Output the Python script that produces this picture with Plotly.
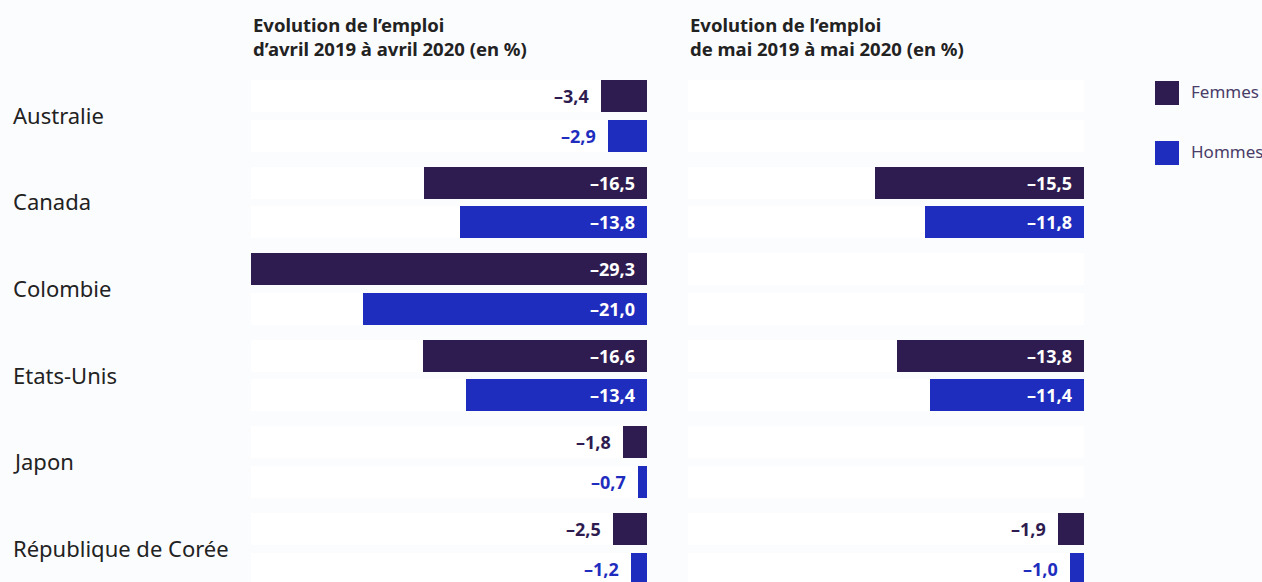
import plotly.graph_objects as go

countries = ["Australie", "Canada", "Colombie", "Etats-Unis", "Japon", "République de Corée"]
avril_femmes = [-3.4, -16.5, -29.3, -16.6, -1.8, -2.5]
avril_hommes = [-2.9, -13.8, -21.0, -13.4, -0.7, -1.2]
mai_femmes = [None, -15.5, None, -13.8, None, -1.9]
mai_hommes = [None, -11.8, None, -11.4, None, -1.0]
panel_titles = ["Evolution de l’emploi<br>d’avril 2019 à avril 2020 (en %)",
                "Evolution de l’emploi<br>de mai 2019 à mai 2020 (en %)"]
series_names = ["Femmes", "Hommes"]

C_F = "#2e1c50"
C_H = "#1f2dbe"
BG = "#fbfcfe"
FONT = "Noto Sans"
XMIN = -29.3

W, H = 1262, 582
PITCH = 86.6
Y0 = 96
DY = 39.5
BAR_H = 32

yf = [Y0 + PITCH * i for i in range(len(countries))]
yh = [y + DY for y in yf]

fig = go.Figure()
annotations = []
shapes = []

panels = [("x", avril_femmes, avril_hommes), ("x2", mai_femmes, mai_hommes)]
for xa, fem, hom in panels:
    # white row backgrounds
    fig.add_trace(go.Bar(x=[XMIN] * (2 * len(countries)), y=yf + yh, orientation="h",
                         width=BAR_H, marker=dict(color="#ffffff", line=dict(width=0)),
                         xaxis=xa, yaxis="y", showlegend=False, hoverinfo="skip"))
    for vals, ys, col, name in [(fem, yf, C_F, "Femmes"), (hom, yh, C_H, "Hommes")]:
        fig.add_trace(go.Bar(x=vals, y=ys, orientation="h", width=BAR_H,
                             marker=dict(color=col, line=dict(width=0)),
                             xaxis=xa, yaxis="y", name=name, showlegend=False))
        for v, y in zip(vals, ys):
            if v is None:
                continue
            txt = "–" + f"{abs(v):.1f}".replace(".", ",")
            inside = abs(v) >= 5
            annotations.append(dict(
                x=0 if inside else v, y=y, xref=xa, yref="y", text=f"<b>{txt}</b>",
                showarrow=False, xanchor="right", yanchor="middle", xshift=-10,
                font=dict(family=FONT, size=18, color="#ffffff" if inside else col)))

# country labels
for c, a, b in zip(countries, yf, yh):
    annotations.append(dict(x=11 / W, y=(a + b) / 2 - 1, xref="paper", yref="y", text=c,
                            showarrow=False, xanchor="left", yanchor="middle",
                            font=dict(family=FONT, size=22, color="#222222")))

# panel titles
for t, x0 in zip(panel_titles, [251, 688]):
    annotations.append(dict(x=x0 / W, y=10, xref="paper", yref="y", text=f"<b>{t}</b>",
                            showarrow=False, xanchor="left", yanchor="top", align="left",
                            font=dict(family=FONT, size=18.5, color="#222222")))

# legend
for i, (name, col) in enumerate(zip(series_names, [C_F, C_H])):
    yc = 93 + 60 * i
    shapes.append(dict(type="rect", xref="paper", yref="y", x0=1155 / W, x1=1179 / W,
                       y0=yc - 12, y1=yc + 12, fillcolor=col, line=dict(width=0)))
    annotations.append(dict(x=1189 / W, y=yc - 1.5, xref="paper", yref="y", text=name,
                            showarrow=False, xanchor="left", yanchor="middle",
                            font=dict(family=FONT, size=17, color="#4a3d68")))

axis_common = dict(range=[XMIN, 0], showgrid=False, zeroline=False, showticklabels=False,
                   showline=False, ticks="", fixedrange=True)
fig.update_layout(
    width=W, height=H, autosize=False,
    margin=dict(l=0, r=0, t=0, b=0),
    paper_bgcolor=BG, plot_bgcolor="rgba(0,0,0,0)",
    barmode="overlay", bargap=0,
    xaxis=dict(domain=[251 / W, 647 / W], anchor="y", **axis_common),
    xaxis2=dict(domain=[688 / W, 1084 / W], anchor="y", **axis_common),
    yaxis=dict(range=[H, 0], showgrid=False, zeroline=False, showticklabels=False,
               showline=False, ticks="", fixedrange=True),
    annotations=annotations, shapes=shapes, showlegend=False,
    font=dict(family=FONT),
)
fig.write_html("out.html", config={"displayModeBar": False},
               post_script="document.body.style.margin='0';document.body.style.overflow='hidden';"
                           "document.body.style.background='" + BG + "';")
